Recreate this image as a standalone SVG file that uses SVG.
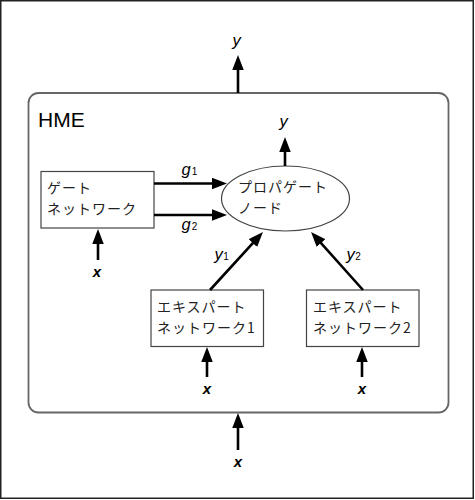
<svg xmlns="http://www.w3.org/2000/svg" width="475" height="500" viewBox="0 0 475 500">
<style>
.frame{fill:#fff;stroke:#222;stroke-width:1.5}
.hme{fill:none;stroke:#666;stroke-width:1.8}
.box{fill:#fff;stroke:#444;stroke-width:1.2}
.jp{font-family:"Noto Sans CJK JP","Liberation Sans",sans-serif;font-size:14px;fill:#222;letter-spacing:1px}
.var{font-family:"Liberation Sans",Arial,sans-serif;font-style:italic;font-size:16.5px;fill:#000}
.xv{font-family:"Liberation Sans",Arial,sans-serif;font-style:italic;font-weight:bold;font-size:15px;fill:#000;text-anchor:middle}
.sub{font-size:10px;font-style:normal}
.title{font-family:"Liberation Sans",Arial,sans-serif;font-size:21px;fill:#000}
.arr{stroke:#000;stroke-width:2.6;fill:none;marker-end:url(#ah)}
</style>
<defs>
<marker id="ah" markerUnits="userSpaceOnUse" markerWidth="16" markerHeight="12" refX="2" refY="5.75" orient="auto">
<path d="M0,0 L15,5.75 L0,11.5 z" fill="#000"/>
</marker>
</defs>
<rect class="frame" x="0.75" y="0.75" width="472.5" height="497.5"/>
<g id="hme">
<rect class="hme" x="28.5" y="93" width="420" height="319.5" rx="10" ry="10"/>
<text class="title" x="38" y="127">HME</text>
</g>
<g id="gate">
<rect class="box" x="41" y="171.5" width="113" height="56.5"/>
<text class="jp" x="47" y="193">ゲート</text>
<text class="jp" x="47" y="214">ネットワーク</text>
</g>
<g id="propagate">
<ellipse class="box" cx="285.5" cy="198.5" rx="64" ry="32.5"/>
<text class="jp" x="238" y="192">プロパゲート</text>
<text class="jp" x="238" y="213">ノード</text>
</g>
<g id="expert1">
<rect class="box" x="151" y="290" width="112.5" height="56.5"/>
<text class="jp" x="157" y="312">エキスパート</text>
<text class="jp" x="157" y="333">ネットワーク1</text>
</g>
<g id="expert2">
<rect class="box" x="306.5" y="290" width="112.5" height="56.5"/>
<text class="jp" x="313" y="312">エキスパート</text>
<text class="jp" x="313" y="333">ネットワーク2</text>
</g>
<g id="connectors">
<line class="arr" x1="238" y1="93" x2="238" y2="68"/>
<line class="arr" x1="285" y1="166" x2="285" y2="150"/>
<line class="arr" x1="154" y1="183.5" x2="214" y2="183.5"/>
<line class="arr" x1="154" y1="215" x2="214" y2="215"/>
<line class="arr" x1="210" y1="290" x2="254.2" y2="241.6"/>
<line class="arr" x1="363" y1="290" x2="319.7" y2="241.6"/>
<line class="arr" x1="98" y1="260" x2="98" y2="242"/>
<line class="arr" x1="207" y1="377" x2="207" y2="360"/>
<line class="arr" x1="362" y1="377" x2="362" y2="360"/>
<line class="arr" x1="238" y1="450" x2="238" y2="426"/>
</g>
<g id="labels">
<text class="var" x="232.5" y="46">y</text>
<text class="var" x="279.5" y="127">y</text>
<text class="var" x="181.5" y="174.5">g<tspan class="sub" dx="1">1</tspan></text>
<text class="var" x="181.5" y="229.5">g<tspan class="sub" dx="1">2</tspan></text>
<text class="var" x="214.5" y="260">y<tspan class="sub" dx="0.5">1</tspan></text>
<text class="var" x="346.5" y="260">y<tspan class="sub" dx="0.5">2</tspan></text>
<text class="xv" x="97" y="277">x</text>
<text class="xv" x="207" y="394">x</text>
<text class="xv" x="362" y="394">x</text>
<text class="xv" x="238" y="467">x</text>
</g>
</svg>
